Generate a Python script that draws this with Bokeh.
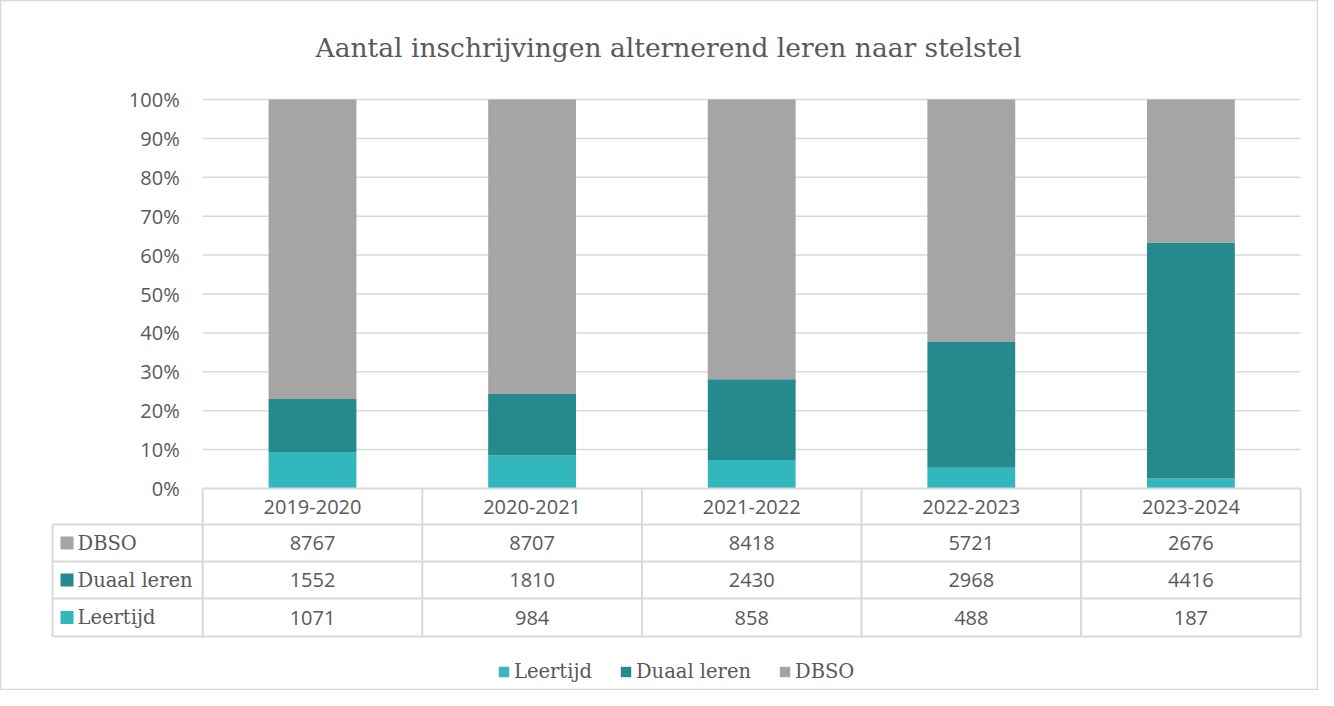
from bokeh.plotting import figure
from bokeh.models import ColumnDataSource, Range1d, Legend, LegendItem
from bokeh.core.properties import value
from bokeh.embed import file_html
from bokeh.resources import INLINE

# ---- data ----
years = ["2019-2020", "2020-2021", "2021-2022", "2022-2023", "2023-2024"]
leertijd = [1071, 984, 858, 488, 187]
duaal = [1552, 1810, 2430, 2968, 4416]
dbso = [8767, 8707, 8418, 5721, 2676]
series_names = ["Leertijd", "Duaal leren", "DBSO"]
series_colors = ["#31B7BC", "#26898D", "#A5A5A5"]
y_ticks = [0, 10, 20, 30, 40, 50, 60, 70, 80, 90, 100]

TITLE = "Aantal inschrijvingen alternerend leren naar stelstel"
TXT = "#595959"
LINE = "#D9D9D9"
SERIF = "DejaVu Serif"
SANS = "Open Sans"
SANS_SIZE = "20px"

W, H = 1318, 690
# layout (reference pixel coordinates)
K = 219.6          # px per category
PY = 3.89          # px per percent
X0_REF, Y0_REF = 312, 488   # centre of first category, 0% line
OFF = 0


def xv(rx):
    return (rx - X0_REF) / K


def yv(ry):
    return (Y0_REF - ry) / PY


x_start = xv(OFF)
y_top = yv(OFF)
p = figure(width=W, height=H, output_backend="svg", toolbar_location=None,
           x_range=Range1d(x_start, x_start + W / K),
           y_range=Range1d(y_top - H / PY, y_top),
           min_border=0, min_border_left=0, min_border_right=0,
           min_border_top=0, min_border_bottom=0)
p.xaxis.visible = False
p.yaxis.visible = False
p.grid.visible = False
p.outline_line_color = LINE
p.outline_line_width = 1.5
p.background_fill_color = "white"
p.border_fill_color = "white"

n = len(years)
xs = list(range(n))
tot = [a + b + c for a, b, c in zip(leertijd, duaal, dbso)]
src = ColumnDataSource(dict(
    x=xs,
    Leertijd=[100 * v / t for v, t in zip(leertijd, tot)],
    Duaal=[100 * v / t for v, t in zip(duaal, tot)],
    DBSO=[100 * v / t for v, t in zip(dbso, tot)],
))

# gridlines
gl = [t for t in y_ticks if t > 0]
p.segment(x0=[-0.5] * len(gl), x1=[n - 0.5] * len(gl), y0=gl, y1=gl,
          line_color=LINE, line_width=1.5)

# bars
rs = p.vbar_stack(["Leertijd", "Duaal", "DBSO"], x="x", width=0.4,
                  color=series_colors, line_color=None, source=src)

# y tick labels
p.text(x=[-0.5] * len(y_ticks), y=y_ticks, text=[f"{t}%" for t in y_ticks],
       x_offset=-23, text_align="right", text_baseline="middle",
       text_font=value(SANS), text_font_size=SANS_SIZE, text_color=TXT)

# title
p.text(x=[xv(668)], y=[yv(47)], text=[TITLE], text_align="center",
       text_baseline="middle", text_font=value(SERIF), text_font_size="26.5px",
       text_color=TXT)

# ---- data table ----
row_edges = [yv(488), yv(524), yv(561), yv(598), yv(636)]
left_x = xv(52)
p.segment(x0=[-0.5], x1=[n - 0.5], y0=[row_edges[0]], y1=[row_edges[0]],
          line_color=LINE, line_width=2)
p.segment(x0=[left_x] * 4, x1=[n - 0.5] * 4, y0=row_edges[1:], y1=row_edges[1:],
          line_color=LINE, line_width=2)
bx = [i - 0.5 for i in range(n + 1)]
p.segment(x0=bx, x1=bx, y0=[row_edges[0]] * len(bx), y1=[row_edges[-1]] * len(bx),
          line_color=LINE, line_width=2)
p.segment(x0=[left_x], x1=[left_x], y0=[row_edges[1]], y1=[row_edges[-1]],
          line_color=LINE, line_width=2)

centers = [(row_edges[i] + row_edges[i + 1]) / 2 for i in range(4)]
p.text(x=xs, y=[centers[0]] * n, text=years, text_align="center",
       text_baseline="middle", text_font=value(SANS), text_font_size=SANS_SIZE,
       text_color=TXT)
rows = [("DBSO", dbso, series_colors[2]),
        ("Duaal leren", duaal, series_colors[1]),
        ("Leertijd", leertijd, series_colors[0])]
for (name, vals, col), cy in zip(rows, centers[1:]):
    p.text(x=xs, y=[cy] * n, text=[str(v) for v in vals], text_align="center",
           text_baseline="middle", text_font=value(SANS), text_font_size=SANS_SIZE,
           text_color=TXT)
    p.rect(x=[xv(66.5)], y=[cy], width=13, height=13, width_units="screen",
           height_units="screen", fill_color=col, line_color=None)
    p.text(x=[xv(77)], y=[cy], text=[name], text_align="left",
           text_baseline="middle", text_font=value(SERIF), text_font_size="19.5px",
           text_color=TXT)

# legend
legend = Legend(items=[LegendItem(label=nm, renderers=[r])
                       for nm, r in zip(series_names, rs)],
                orientation="horizontal", location=(497, 7),
                glyph_width=13, glyph_height=13, label_height=20,
                label_standoff=4, spacing=27, padding=0, margin=0,
                border_line_color=None, background_fill_alpha=0,
                label_text_font=SERIF, label_text_font_size="19.5px",
                label_text_color=TXT)
p.add_layout(legend, "center")

open("out.html", "w").write(file_html(p, INLINE))
